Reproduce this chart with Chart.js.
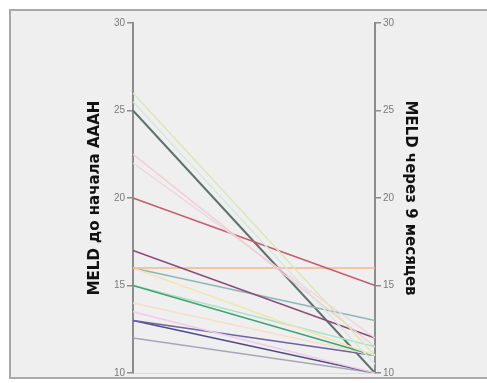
<!DOCTYPE html>
<html>
<head>
<meta charset="utf-8">
<script src="https://cdn.jsdelivr.net/npm/chart.js@4/dist/chart.umd.min.js"></script>
<style>
  html, body { margin: 0; padding: 0; background: #ffffff; overflow: hidden; }
  #frame {
    position: absolute; left: 9px; top: 9px; width: 480px; height: 366px;
    border: 2px solid #a9a9a9; border-right: none; background: #efefef;
  }
  #chart { position: absolute; left: 0; top: 0; }
</style>
</head>
<body>
<div id="frame"></div>
<canvas id="chart" width="487" height="383"></canvas>
<script>
// два момента измерения
const moments = ['до', 'через 9 месяцев'];
// MELD до начала и через 9 месяцев, по пациентам
const meldBefore = [26, 25.5, 22.5, 22, 20, 17, 16, 16, 16, 15, 15, 14, 13.5, 13, 13, 12, 25];
const meldAfter  = [11, 10.5, 11.5, 12, 15, 12, 16, 11, 13, 11, 11.5, 11, 10, 11, 10, 10, 10];
const yTicks = [10, 15, 20, 25, 30];

const lineColors = [
    '#dbe6bd', '#d6e8de', '#f1cbd0', '#eed3e2', '#c75a70', '#8c4c7a', '#f2b98f',
    '#efe6b2', '#8fb5b5', '#3ea374', '#ade2c6', '#f4e0c9', '#efcbe8',
    '#6b62a4', '#4c4a82', '#a6a6b6', '#5d716d'
];

const datasets = meldBefore.map((v, i) => ({
    label: 'p' + (i + 1),
    data: [v, meldAfter[i]],
    borderColor: lineColors[i],
    borderWidth: i === meldBefore.length - 1 ? 2 : 1.4,
    pointRadius: 0,
    tension: 0,
    yAxisID: 'y'
}));

const axisColor = '#8c8c8c';

new Chart(document.getElementById('chart').getContext('2d'), {
    type: 'line',
    data: { labels: moments, datasets: datasets },
    options: {
        responsive: false,
        animation: false,
        layout: { padding: { left: 80, right: 50, top: 23, bottom: 10 } },
        plugins: { legend: { display: false }, tooltip: { enabled: false } },
        scales: {
            x: {
                offset: false,
                ticks: { display: false },
                grid: { display: false, drawTicks: false },
                border: { display: true, color: '#dcdcdc', width: 1 },
                afterFit: (s) => { s.height = 0; }
            },
            y: {
                position: 'left',
                min: 10, max: 30,
                afterBuildTicks: (s) => { s.ticks = yTicks.map(v => ({ value: v })); },
                ticks: { color: '#7a7a7a', font: { size: 10, family: 'Liberation Sans' }, padding: 2 },
                grid: { drawOnChartArea: false, drawTicks: true, tickLength: 6, color: axisColor, lineWidth: 1.5 },
                border: { display: true, color: axisColor, width: 2 },
                title: {
                    display: true,
                    text: 'MELD до начала АААН',
                    color: '#111',
                    font: { size: 15, weight: 'bold', family: 'DejaVu Sans' },
                    padding: { top: 6, bottom: 0 }
                },
                afterFit: (s) => { s.width = 53; }
            },
            y2: {
                position: 'right',
                min: 10, max: 30,
                afterBuildTicks: (s) => { s.ticks = yTicks.map(v => ({ value: v })); },
                ticks: { color: '#7a7a7a', font: { size: 10, family: 'Liberation Sans' }, padding: 2 },
                grid: { drawOnChartArea: false, drawTicks: true, tickLength: 6, color: axisColor, lineWidth: 1.5 },
                border: { display: true, color: axisColor, width: 2 },
                title: {
                    display: true,
                    text: 'MELD через 9 месяцев',
                    color: '#111',
                    font: { size: 15, weight: 'bold', family: 'DejaVu Sans' },
                    padding: { top: 18, bottom: 0 }
                },
                afterFit: (s) => { s.width = 62; }
            }
        }
    }
});
</script>
</body>
</html>
